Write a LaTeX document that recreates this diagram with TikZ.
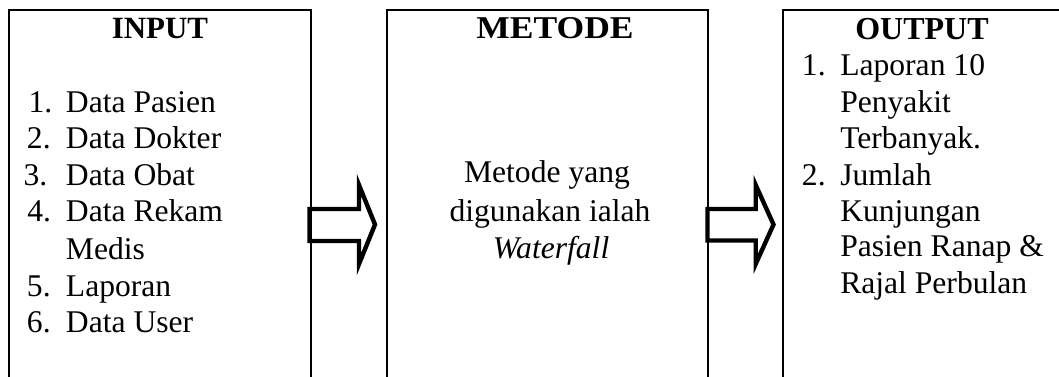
\documentclass[tikz,border=0pt]{standalone}
\usepackage{fontspec}
\setmainfont{Liberation Serif}
\usetikzlibrary{fit}
\begin{document}
\begin{tikzpicture}[x=0.75pt,y=-0.75pt,
  panel/.style={draw=black, line width=1.5pt, inner sep=0pt},
  txt/.style={inner sep=0pt, font=\fontsize{23.7pt}{27.5pt}\selectfont, anchor=base west},
  head/.style={inner sep=0pt, font=\fontsize{#1}{27.5pt}\selectfont\bfseries, anchor=base},
  mid/.style={inner sep=0pt, font=\fontsize{23.7pt}{27.5pt}\selectfont, anchor=base},
  blockarrow/.style={draw=black, line width=3.3pt, line join=miter, miter limit=10}]
\useasboundingbox (0,0) rectangle (1059,376);
\clip (0,0) rectangle (1059,376);

% the three panels (they run past the lower and right margins)
\node[panel, fit={(9,10) (311,420)}] (input) {};
\node[panel, fit={(386.7,10) (707.7,420)}] (metode) {};
\node[panel, fit={(783.3,10) (1090,420)}] (output) {};

% block arrows between the panels
\draw[blockarrow] (309.5,209) -- (359,209) -- (359,185) -- (375,224.5)
  -- (359,264) -- (359,241) -- (309.5,241) -- cycle;
\draw[blockarrow] (707.5,209) -- (755.7,209) -- (755.7,185) -- (773.5,224.5)
  -- (755.7,264) -- (755.7,240.5) -- (707.5,240.5) -- cycle;

% INPUT panel
\node[head=23.2pt] (inhead) at (160,38.3) {INPUT};
\node[txt] (in1n) at (28.3,112.3) {1.};
\node[txt] (in1)  at (65.7,112.3) {Data Pasien};
\node[txt] (in2n) at (26.7,148.6) {2.};
\node[txt] (in2)  at (65.7,148.6) {Data Dokter};
\node[txt] (in3n) at (23.3,185.0) {3.};
\node[txt] (in3)  at (65.7,185.0) {Data Obat};
\node[txt] (in4n) at (27.0,221.7) {4.};
\node[txt] (in4)  at (65.7,221.7) {Data Rekam};
\node[txt] (in4b) at (65.7,259.3) {Medis};
\node[txt] (in5n) at (26.7,296.0) {5.};
\node[txt] (in5)  at (65.7,296.0) {Laporan};
\node[txt] (in6n) at (26.7,332.7) {6.};
\node[txt] (in6)  at (65.7,332.7) {Data User};

% METODE panel
\node[head=23.8pt] (mhead) at (555,38.3) {\scalebox{1.12}[1]{METODE}};
\node[mid] (m1) at (547,182.7) {Metode yang};
\node[mid] (m2) at (550,221.7) {digunakan ialah};
\node[mid] (m3) at (551,258.3) {\itshape Waterfall};

% OUTPUT panel
\node[head=24pt] (ohead) at (922,39) {OUTPUT};
\node[txt] (o1n) at (801.7,75.0) {1.};
\node[txt] (o1)  at (840,75.0) {Laporan 10};
\node[txt] (o1b) at (840,112.7) {Penyakit};
\node[txt] (o1c) at (840,148.3) {Terbanyak.};
\node[txt] (o2n) at (801.7,185.0) {2.};
\node[txt] (o2)  at (840,185.0) {Jumlah};
\node[txt] (o2b) at (840,221.7) {Kunjungan};
\node[txt] (o2c) at (840,256.7) {Pasien Ranap \&};
\node[txt] (o2d) at (840,293.3) {Rajal Perbulan};
\end{tikzpicture}
\end{document}
